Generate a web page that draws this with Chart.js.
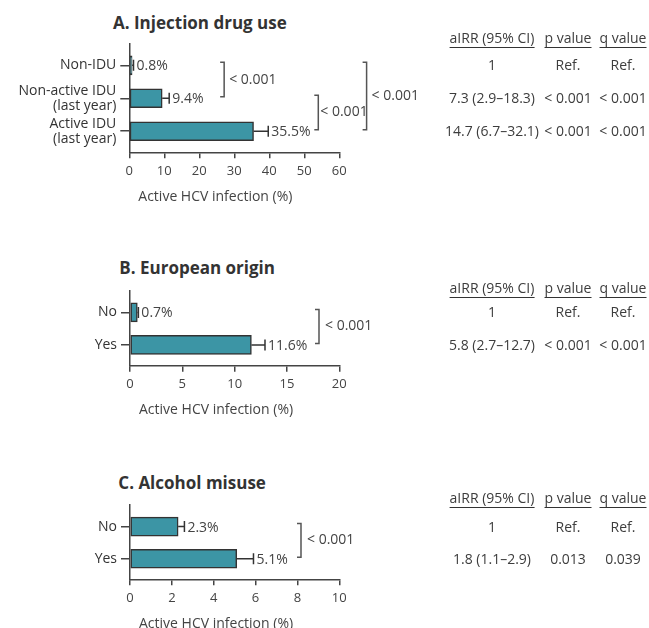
<!DOCTYPE html>
<html>
<head>
<meta charset="utf-8">
<script src="https://cdn.jsdelivr.net/npm/chart.js@4"></script>
<style>
  html, body { margin: 0; padding: 0; background: #fff; }
  #wrap { position: relative; width: 649px; height: 628px; overflow: hidden; font-family: "Open Sans", sans-serif; color: #3d3d3d; }
  #wrap canvas { position: absolute; left: 0; }
  .ttl { position: absolute; font-weight: bold; font-size: 17px; line-height: 20px; color: #333; white-space: nowrap; }
  .cell { position: absolute; font-size: 14px; line-height: 16px; white-space: nowrap; transform: translate(-50%, -50%); }
  .hd { border-bottom: 1.5px solid #333; }
</style>
</head>
<body>
<div id="wrap"></div>
<script>
// A. Injection drug use
const iduCategories = ['Non-IDU', ['Non-active IDU', '(last year)'], ['Active IDU', '(last year)']];
const iduPrevalence = [0.8, 9.4, 35.5];
const iduUpperCI    = [1.2, 11.4, 39.7];
const iduTicks      = [0, 10, 20, 30, 40, 50, 60];
const iduAIRR       = ['1', '7.3 (2.9–18.3)', '14.7 (6.7–32.1)'];
const iduP          = ['Ref.', '< 0.001', '< 0.001'];
const iduQ          = ['Ref.', '< 0.001', '< 0.001'];
const iduPairs      = [[0, 1, '< 0.001'], [1, 2, '< 0.001'], [0, 2, '< 0.001']];

// B. European origin
const euCategories = ['No', 'Yes'];
const euPrevalence = [0.7, 11.6];
const euUpperCI    = [0.8, 12.9];
const euTicks      = [0, 5, 10, 15, 20];
const euAIRR       = ['1', '5.8 (2.7–12.7)'];
const euP          = ['Ref.', '< 0.001'];
const euQ          = ['Ref.', '< 0.001'];
const euPairs      = [[0, 1, '< 0.001']];

// C. Alcohol misuse
const alcCategories = ['No', 'Yes'];
const alcPrevalence = [2.3, 5.1];
const alcUpperCI    = [2.6, 5.9];
const alcTicks      = [0, 2, 4, 6, 8, 10];
const alcAIRR       = ['1', '1.8 (1.1–2.9)'];
const alcP          = ['Ref.', '0.013'];
const alcQ          = ['Ref.', '0.039'];
const alcPairs      = [[0, 1, '< 0.001']];

const tableHeader = ['aIRR (95% CI)', 'p value', 'q value'];
const xAxisTitle  = 'Active HCV infection (%)';

const TEAL = '#3c95a5';
const INK  = '#333';
const FONT = '"Open Sans", sans-serif';

// layout per panel (pixels in page coords)
const panels = [
  { title: 'A. Injection drug use', titleX: 113, titleY: 23, canvasTop: 0, canvasH: 215,
    top: 43.3, bottom: 152.3, left: 129.3, right: 339.3, headY: 38,
    bracketX: [27.1, 54, 67.8], bracketGap: [5, 2, 5],
    cats: iduCategories, vals: iduPrevalence, upper: iduUpperCI, ticks: iduTicks,
    airr: iduAIRR, p: iduP, q: iduQ, pairs: iduPairs },
  { title: 'B. European origin', titleX: 119.3, titleY: 268.3, canvasTop: 240, canvasH: 185,
    top: 290.7, bottom: 365.7, left: 130, right: 339.3, headY: 288,
    bracketX: [18.06], bracketGap: [6],
    cats: euCategories, vals: euPrevalence, upper: euUpperCI, ticks: euTicks,
    airr: euAIRR, p: euP, q: euQ, pairs: euPairs },
  { title: 'C. Alcohol misuse', titleX: 118.3, titleY: 482.7, canvasTop: 455, canvasH: 173,
    top: 505, bottom: 579.3, left: 130, right: 339.3, headY: 498,
    bracketX: [8.17], bracketGap: [6],
    cats: alcCategories, vals: alcPrevalence, upper: alcUpperCI, ticks: alcTicks,
    airr: alcAIRR, p: alcP, q: alcQ, pairs: alcPairs },
];

const colX = [492, 568, 623];

// error bars, value labels, comparison brackets, x title
const extras = {
  id: 'extras',
  afterDraw(chart, args, o) {
    const { ctx, chartArea, scales: { x, y } } = chart;
    const p = o.panel;
    ctx.save();
    ctx.lineWidth = 1.5;
    ctx.strokeStyle = INK;
    ctx.fillStyle = '#444';
    ctx.font = '14px ' + FONT;
    ctx.textBaseline = 'middle';
    ctx.textAlign = 'left';

    p.vals.forEach((v, i) => {
      const yc = y.getPixelForValue(i);
      const x0 = x.getPixelForValue(v);
      const x1 = x.getPixelForValue(p.upper[i]);
      ctx.beginPath();
      ctx.moveTo(x0, yc); ctx.lineTo(x1, yc);
      ctx.moveTo(x1, yc - 5.5); ctx.lineTo(x1, yc + 5.5);
      ctx.stroke();
      ctx.fillText(v.toFixed(1) + '%', x1 + 3, yc + 1);
    });

    ctx.strokeStyle = '#555';
    p.pairs.forEach(([a, b, txt], k) => {
      const bx = x.getPixelForValue(p.bracketX[k]);
      const y1 = y.getPixelForValue(a) - 3;
      const y2 = y.getPixelForValue(b) - 1.5;
      ctx.beginPath();
      ctx.moveTo(bx - 4, y1); ctx.lineTo(bx, y1); ctx.lineTo(bx, y2); ctx.lineTo(bx - 4, y2);
      ctx.stroke();
      ctx.fillText(txt, bx + p.bracketGap[k], (y1 + y2) / 2);
    });

    ctx.fillText(xAxisTitle, chartArea.left + 9, chartArea.bottom + 44.5);
    ctx.restore();
  }
};

const wrap = document.getElementById('wrap');

function addDiv(cls, text, left, top) {
  const d = document.createElement('div');
  d.className = cls;
  d.style.left = left + 'px';
  d.style.top = top + 'px';
  d.textContent = text;
  wrap.appendChild(d);
  return d;
}

panels.forEach(p => {
  addDiv('ttl', p.title, p.titleX, p.titleY - 10);

  const cv = document.createElement('canvas');
  cv.width = 649;
  cv.height = p.canvasH;
  cv.style.top = p.canvasTop + 'px';
  wrap.appendChild(cv);

  const n = p.cats.length;
  const chart = new Chart(cv.getContext('2d'), {
    type: 'bar',
    data: {
      datasets: [{
        data: p.vals.map((v, i) => ({ x: v, y: i })),
        backgroundColor: TEAL,
        borderColor: INK,
        borderWidth: 1.5,
        borderSkipped: false,
        barThickness: 19
      }]
    },
    plugins: [extras],
    options: {
      indexAxis: 'y',
      responsive: false,
      animation: false,
      layout: { padding: { top: p.top - p.canvasTop, right: 649 - p.right, left: 0, bottom: 0 } },
      plugins: {
        legend: { display: false },
        tooltip: { enabled: false },
        extras: { panel: p }
      },
      scales: {
        x: {
          type: 'linear',
          min: 0,
          max: p.ticks[p.ticks.length - 1],
          afterBuildTicks: s => { s.ticks = p.ticks.map(v => ({ value: v })); },
          afterFit: s => { s.height = p.canvasH - (p.bottom - p.canvasTop); },
          ticks: { color: '#444', padding: 5, font: { family: FONT, size: 13 } },
          grid: { drawOnChartArea: false, tickLength: 6, color: '#444', lineWidth: 1.5 },
          border: { color: '#444', width: 1.5 }
        },
        y: {
          type: 'linear',
          reverse: true,
          offset: false,
          min: -0.67,
          max: n - 1 + 0.64,
          afterBuildTicks: s => { s.ticks = p.cats.map((_, i) => ({ value: i })); },
          afterFit: s => { s.width = p.left; },
          ticks: {
            callback: v => p.cats[v],
            color: INK,
            padding: 4,
            font: { family: FONT, size: 14, lineHeight: 1.1 }
          },
          grid: { offset: false, drawOnChartArea: false, tickLength: 9, color: '#444', lineWidth: 1.5 },
          border: { color: '#444', width: 1.5 }
        }
      }
    }
  });

  // table on the right, one row per bar
  tableHeader.forEach((h, c) => {
    const d = addDiv('cell', '', colX[c], p.headY);
    const s = document.createElement('span');
    s.className = 'hd';
    s.textContent = h;
    d.appendChild(s);
  });
  p.cats.forEach((_, i) => {
    const yc = p.canvasTop + chart.scales.y.getPixelForValue(i);
    addDiv('cell', p.airr[i], colX[0], yc);
    addDiv('cell', p.p[i], colX[1], yc);
    addDiv('cell', p.q[i], colX[2], yc);
  });
});
</script>
</body>
</html>
